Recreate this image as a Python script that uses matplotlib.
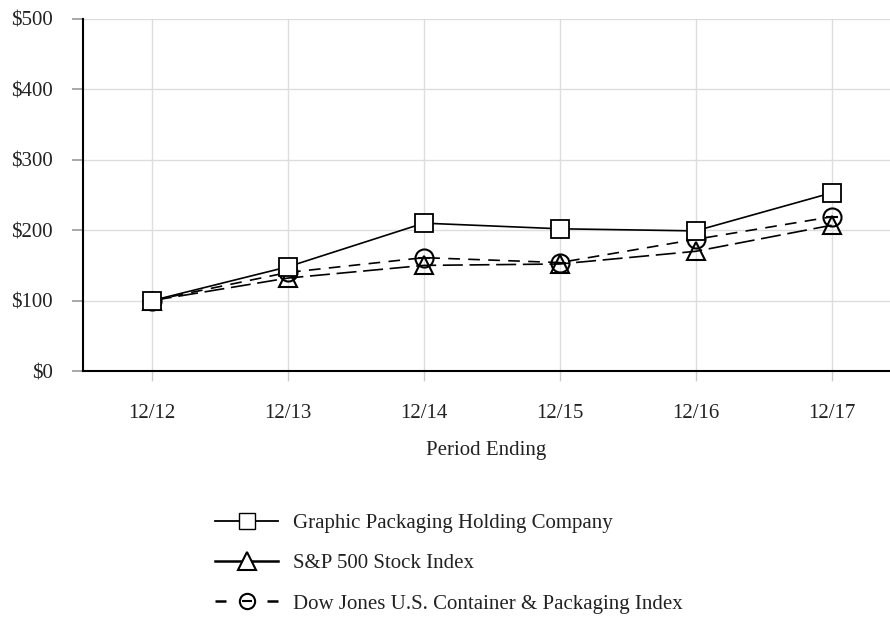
import matplotlib
matplotlib.use("Agg")
import matplotlib.pyplot as plt
from matplotlib.lines import Line2D
from matplotlib.legend_handler import HandlerTuple

periods = ["12/12", "12/13", "12/14", "12/15", "12/16", "12/17"]
gpk = [100, 148, 210, 202, 199, 253]
sp500 = [100, 132, 150, 152, 170, 207]
dj_container = [100, 140, 161, 154, 187, 219]
y_ticks = [0, 100, 200, 300, 400, 500]

plt.rcParams['font.family'] = ['Liberation Serif', 'DejaVu Serif']
txt = '#222222'

fig = plt.figure(figsize=(8.9, 6.39), dpi=100)
ax = fig.add_axes([0.0933, 0.4194, 0.9067, 0.5509])

x = list(range(len(periods)))

ax.plot(x, gpk, color='black', lw=1.2, marker='s', ms=13, mfc='white', mec='black', mew=1.3, zorder=5)
ax.plot(x, sp500, color='black', lw=1.2, dashes=(12, 4), marker='^', ms=13, mfc='none', mec='black', mew=1.5, zorder=4)
ax.plot(x, dj_container, color='black', lw=1.2, dashes=(7, 5), marker='o', ms=13, mfc='none', mec='black', mew=1.5, zorder=4)
ax.plot(x, dj_container, ls='none', marker='_', ms=9, mec='black', mew=1.5, zorder=4)

ax.set_xlim(-0.507, 5.43)
ax.set_ylim(0, 500)
ax.set_xticks(x)
ax.set_xticklabels(periods, fontsize=15, color=txt)
ax.set_yticks(y_ticks)
ax.set_yticklabels([f"${v}" for v in y_ticks], fontsize=15, color=txt)
ax.grid(True, color='#dddddd', lw=1.0)
ax.set_axisbelow(True)
for s in ['top', 'right']:
    ax.spines[s].set_visible(False)
ax.spines['left'].set_linewidth(1.5)
ax.spines['bottom'].set_linewidth(1.5)
ax.tick_params(axis='y', length=8, color='#999999', width=1.2, pad=14)
ax.tick_params(axis='x', length=7, color='#cccccc', width=1.0, pad=16.5)
ax.set_xlabel("Period Ending", fontsize=15, color=txt, labelpad=13)

# legend handles
h1 = Line2D([], [], color='black', lw=1.3, marker='s', ms=12, mfc='white', mec='black')
h2 = Line2D([], [], color='black', lw=1.8, marker='^', ms=13, mfc='white', mec='black', mew=1.5)
h3a = Line2D([], [], color='black', lw=1.8, dashes=(4.4, 16.4), marker='o', ms=11, mfc='white', mec='black', mew=1.5)
h3b = Line2D([], [], ls='none', marker='_', ms=7, mec='black', mew=1.5)
fig.legend([h1, h2, (h3a, h3b)],
           ["Graphic Packaging Holding Company", "S&P 500 Stock Index",
            "Dow Jones U.S. Container & Packaging Index"],
           handler_map={tuple: HandlerTuple(ndivide=1, pad=0)},
           loc='upper left', bbox_to_anchor=(0.2326, 0.2097), frameon=False,
           fontsize=15, handlelength=3.0, handletextpad=0.72, labelspacing=1.0,
           borderaxespad=0, labelcolor=txt)

fig.savefig("out.png", dpi=100)
